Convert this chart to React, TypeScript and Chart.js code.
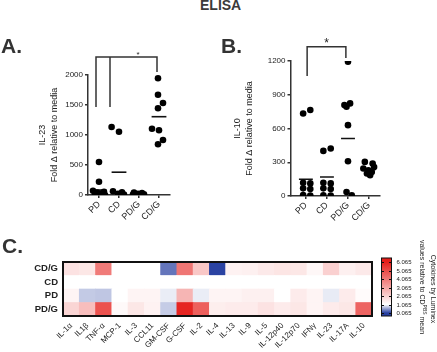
import React, { useEffect, useRef } from 'react';
import { Chart, registerables } from 'chart.js';

Chart.register(...registerables);

const FONT = "'Liberation Sans', Arial, Helvetica, sans-serif";
const INK = '#222222';
const AXIS = '#333333';

Chart.defaults.font.family = FONT;

const groups = ['PD', 'CD', 'PD/G', 'CD/G'];

// Panel A – IL-23, fold change relative to media
const il23PD = [550, 222, 72, 55, 40, 28, 15, 6, 0];
const il23CD = [1133, 1055, 62, 45, 22, 6];
const il23PDG = [42, 32, 22, 12, 6, 0];
const il23CDG = [1945, 1672, 1533, 1445, 1105, 1078, 917, 845];
const il23JitterPD = [0, 0, -0.3, 0.25, -0.1, 0.15, -0.2, 0.05, 0.3];
const il23JitterCD = [-0.37, 0, -0.3, 0.15, -0.05, 0.25];
const il23JitterPDG = [-0.25, 0.15, -0.05, 0.25, -0.3, 0.05];
const il23JitterCDG = [-0.05, -0.05, 0.2, -0.05, -0.35, 0, 0.2, -0.05];
const il23Means = [83, 380, 15, 1305];
const il23Ticks = [0, 500, 1000, 1500, 2000];
const il23BracketX = [0.85, 1.55, 3.9];
const il23BracketLegs = [1467, 1467, 2050];
const il23BracketTop = 2300;
const il23StarX = 2.95;

// Panel B – IL-10, fold change relative to media
const il10PD = [734, 764, 118, 112, 68, 62, 8, 4];
const il10CD = [401, 422, 118, 112, 68, 62, 6, 3];
const il10PDG = [1194, 823, 808, 793, 630, 309, 36, 6];
const il10CDG = [303, 289, 258, 244, 229, 214, 200, 184];
const il10JitterPD = [-0.13, 0.21, -0.13, 0.21, -0.13, 0.21, -0.13, 0.21];
const il10JitterCD = [-0.17, 0.18, -0.17, 0.18, -0.17, 0.18, -0.17, 0.18];
const il10JitterPDG = [0, 0.1, -0.17, -0.07, 0, 0, -0.07, 0.18];
const il10JitterCDG = [-0.2, 0.17, 0.24, -0.27, -0.03, 0.13, -0.1, 0.05];
const il10Means = [149, 169, 511, 235];
const il10Ticks = [0, 300, 600, 900, 1200];
const il10BracketX = [1.06, 2.9];
const il10BracketLegs = [1067, 1227];
const il10BracketTop = 1327;
const il10StarX = 1.98;

// Panel C – Luminex heatmap (values relative to CD^PBS mean)
const cytokines = ['IL-1α', 'IL1β', 'TNF-α', 'MCP-1', 'IL-3', 'CCL11', 'GM-CSF', 'G-CSF', 'IL-2', 'IL-4', 'IL-13', 'IL-9', 'IL-5', 'IL-12p40', 'IL-12p70', 'IFNγ', 'IL-23', 'IL-17A', 'IL-10'];
const heatRowsBottomUp = ['PD/G', 'PD', 'CD', 'CD/G'];
const heatCDG = [1.7, 1.6, 4.0, 1.065, 1.065, 1.065, 0.35, 4.1, 2.3, 0.09, 1.35, 1.4, 1.55, 1.65, 1.6, 1.25, 2.1, 1.4, 1.55];
const heatCD = [1.065, 1.065, 1.065, 1.065, 1.065, 1.065, 1.065, 1.065, 1.065, 1.065, 1.065, 1.065, 1.065, 1.065, 1.065, 1.065, 1.065, 1.065, 1.065];
const heatPD = [1.3, 0.79, 0.77, 1.065, 1.3, 1.3, 0.97, 2.7, 0.97, 1.3, 1.3, 1.4, 1.4, 1.065, 1.5, 1.3, 0.96, 1.5, 1.15];
const heatPDG = [2.0, 2.5, 4.9, 1.2, 1.6, 1.35, 0.8, 5.9, 4.6, 1.45, 1.5, 1.5, 1.7, 1.5, 1.6, 1.3, 1.5, 1.6, 4.5];
const colorbarTicks = [6.065, 5.065, 4.065, 3.065, 2.065, 1.065, 0.065];

const SCALE_MIN = 0.065;
const SCALE_MID = 1.065;
const SCALE_MAX = 6.065;
const WHITE = [255, 255, 255];
const RED = [229, 30, 26];
const BLUE = [38, 62, 160];

function lerp(a: number[], b: number[], t: number) {
  return a.map((v, i) => Math.round(v + (b[i] - v) * t));
}
function colorFor(v: number) {
  let c: number[];
  if (v >= SCALE_MID) c = lerp(WHITE, RED, Math.min(1, (v - SCALE_MID) / (SCALE_MAX - SCALE_MID)));
  else c = lerp(WHITE, BLUE, Math.min(1, (SCALE_MID - v) / (SCALE_MID - SCALE_MIN)));
  return `rgb(${c[0]},${c[1]},${c[2]})`;
}

type Panel = {
  values: number[][];
  jitter: number[][];
  means: number[];
  ticks: number[];
  yTitle: string[];
  bracketX: number[];
  bracketLegs: number[];
  bracketTop: number;
  starX: number;
  starSize: number;
  xMin: number;
  xMax: number;
  meanHalf: number;
  pad: { left: number; top: number; right: number; bottom: number };
  yWidth: number;
  xHeight: number;
};

const panelA: Panel = {
  values: [il23PD, il23CD, il23PDG, il23CDG],
  jitter: [il23JitterPD, il23JitterCD, il23JitterPDG, il23JitterCDG],
  means: il23Means,
  ticks: il23Ticks,
  yTitle: ['IL-23', 'Fold Δ relative to media'],
  bracketX: il23BracketX,
  bracketLegs: il23BracketLegs,
  bracketTop: il23BracketTop,
  starX: il23StarX,
  starSize: 8,
  xMin: 0.45,
  xMax: 4.55,
  meanHalf: 0.37,
  pad: { left: 37, top: 55, right: 45, bottom: 5 },
  yWidth: 51,
  xHeight: 30,
};

const panelB: Panel = {
  values: [il10PD, il10CD, il10PDG, il10CDG],
  jitter: [il10JitterPD, il10JitterCD, il10JitterPDG, il10JitterCDG],
  means: il10Means,
  ticks: il10Ticks,
  yTitle: ['IL-10', 'Fold Δ relative to media'],
  bracketX: il10BracketX,
  bracketLegs: il10BracketLegs,
  bracketTop: il10BracketTop,
  starX: il10StarX,
  starSize: 12,
  xMin: 0.27,
  xMax: 4.52,
  meanHalf: 0.33,
  pad: { left: 16.5, top: 41, right: 57, bottom: 4 },
  yWidth: 59,
  xHeight: 30,
};

function makeScatter(canvas: HTMLCanvasElement, p: Panel) {
  const points = p.values.flatMap((vals, gi) => vals.map((v, j) => ({ x: gi + 1 + (p.jitter[gi][j] || 0), y: v })));
  const meanSets = p.means.map((m, gi) => ({
    type: 'line' as const,
    data: [{ x: gi + 1 - p.meanHalf, y: m }, { x: gi + 1 + p.meanHalf, y: m }],
    borderColor: '#111',
    borderWidth: 1.6,
    pointRadius: 0,
    showLine: true,
    fill: false,
  }));
  const n = p.bracketX.length;
  const bracketMain = {
    type: 'line' as const,
    data: [
      { x: p.bracketX[0], y: p.bracketLegs[0] },
      { x: p.bracketX[0], y: p.bracketTop },
      { x: p.bracketX[n - 1], y: p.bracketTop },
      { x: p.bracketX[n - 1], y: p.bracketLegs[n - 1] },
    ],
    borderColor: AXIS,
    borderWidth: 1.5,
    pointRadius: 0,
    showLine: true,
    fill: false,
    clip: false as any,
  };
  const bracketInner = p.bracketX.slice(1, n - 1).map((bx, i) => ({
    type: 'line' as const,
    data: [{ x: bx, y: p.bracketLegs[i + 1] }, { x: bx, y: p.bracketTop }],
    borderColor: AXIS,
    borderWidth: 1.5,
    pointRadius: 0,
    showLine: true,
    fill: false,
    clip: false as any,
  }));
  const starPlugin = {
    id: 'star',
    afterDatasetsDraw(chart: any) {
      const { ctx, scales } = chart;
      ctx.save();
      ctx.fillStyle = INK;
      ctx.font = `${p.starSize}px ${FONT}`;
      ctx.textAlign = 'center';
      ctx.textBaseline = 'alphabetic';
      ctx.fillText('*', scales.x.getPixelForValue(p.starX), scales.y.getPixelForValue(p.bracketTop));
      ctx.restore();
    },
  };
  return new Chart(canvas, {
    type: 'scatter',
    data: {
      datasets: [
        {
          type: 'scatter',
          data: points,
          pointRadius: 3.3,
          pointBackgroundColor: '#000',
          pointBorderColor: '#000',
          pointBorderWidth: 0,
        } as any,
        ...meanSets,
        bracketMain,
        ...bracketInner,
      ],
    },
    options: {
      responsive: false,
      animation: false,
      events: [],
      layout: { padding: p.pad },
      plugins: { legend: { display: false }, tooltip: { enabled: false }, title: { display: false } },
      scales: {
        x: {
          type: 'linear',
          min: p.xMin,
          max: p.xMax,
          afterBuildTicks: (s: any) => {
            s.ticks = groups.map((_, i) => ({ value: i + 1 }));
          },
          afterFit: (s: any) => {
            s.height = p.xHeight;
          },
          ticks: {
            autoSkip: false,
            minRotation: 45,
            maxRotation: 45,
            padding: 1,
            color: INK,
            font: { size: 9 },
            callback: (v: any) => groups[Math.round(Number(v)) - 1] ?? '',
          },
          grid: { drawOnChartArea: false, drawTicks: true, tickLength: 3, color: AXIS, lineWidth: 1.5 },
          border: { color: AXIS, width: 1.5 },
        },
        y: {
          type: 'linear',
          min: 0,
          max: p.ticks[p.ticks.length - 1],
          afterBuildTicks: (s: any) => {
            s.ticks = p.ticks.map((v) => ({ value: v }));
          },
          afterFit: (s: any) => {
            s.width = p.yWidth;
          },
          ticks: { padding: 2, color: INK, font: { size: 8 }, callback: (v: any) => String(v) },
          grid: { drawOnChartArea: false, drawTicks: true, tickLength: 3, color: AXIS, lineWidth: 1.5 },
          border: { color: AXIS, width: 1.5 },
          title: {
            display: true,
            text: p.yTitle,
            padding: 0,
            color: INK,
            font: { size: 9, lineHeight: 1.333 },
          },
        },
      },
    } as any,
    plugins: [starPlugin],
  });
}

function makeHeat(canvas: HTMLCanvasElement) {
  const rows = [heatPDG, heatPD, heatCD, heatCDG];
  const heatPlugin = {
    id: 'heatDecor',
    afterDatasetsDraw(chart: any) {
      const { ctx, chartArea } = chart;
      ctx.save();
      ctx.strokeStyle = '#111';
      ctx.lineWidth = 2;
      ctx.strokeRect(chartArea.left, chartArea.top, chartArea.right - chartArea.left, chartArea.bottom - chartArea.top);
      ctx.restore();
    },
    afterDraw(chart: any) {
      const { ctx, chartArea } = chart;
      const x0 = chartArea.right + 9.5;
      const w = 10;
      const top = chartArea.top - 4;
      const bottom = chartArea.bottom;
      const yTop = chartArea.top;
      const ySpan = 51;
      const yFor = (v: number) => yTop + ((SCALE_MAX - v) / (SCALE_MAX - SCALE_MIN)) * ySpan;
      ctx.save();
      const grad = ctx.createLinearGradient(0, yFor(SCALE_MAX), 0, yFor(SCALE_MIN));
      for (let k = 0; k <= 24; k++) {
        const v = SCALE_MAX - (k / 24) * (SCALE_MAX - SCALE_MIN);
        grad.addColorStop(k / 24, colorFor(v));
      }
      ctx.fillStyle = grad;
      ctx.fillRect(x0, top, w, bottom - top);
      ctx.strokeStyle = '#111';
      ctx.lineWidth = 1;
      ctx.strokeRect(x0, top, w, bottom - top);
      ctx.fillStyle = INK;
      ctx.font = `6px ${FONT}`;
      ctx.textAlign = 'left';
      ctx.textBaseline = 'middle';
      colorbarTicks.forEach((v) => {
        const y = Math.round(yFor(v)) + 0.5;
        ctx.beginPath();
        ctx.moveTo(x0, y);
        ctx.lineTo(x0 + 2.5, y);
        ctx.moveTo(x0 + w - 2.5, y);
        ctx.lineTo(x0 + w, y);
        ctx.stroke();
        ctx.fillText(v.toFixed(3), x0 + w + 5, y);
      });
      const cy = (top + bottom) / 2 + 2;
      ctx.font = `7px ${FONT}`;
      ctx.save();
      ctx.translate(433, cy);
      ctx.rotate(Math.PI / 2);
      ctx.textAlign = 'center';
      ctx.fillText('Cytokines by Luminex', 0, 0);
      ctx.restore();
      ctx.save();
      ctx.translate(422, cy - 2);
      ctx.rotate(Math.PI / 2);
      const a = 'values relative to CD';
      const s = 'PBS';
      const b = ' mean';
      ctx.font = `7px ${FONT}`;
      const wa = ctx.measureText(a).width;
      const wb = ctx.measureText(b).width;
      ctx.font = `5px ${FONT}`;
      const ws = ctx.measureText(s).width;
      let x = -(wa + ws + wb) / 2;
      ctx.textAlign = 'left';
      ctx.font = `7px ${FONT}`;
      ctx.fillText(a, x, 0);
      x += wa;
      ctx.font = `5px ${FONT}`;
      ctx.fillText(s, x, -2.5);
      x += ws;
      ctx.font = `7px ${FONT}`;
      ctx.fillText(b, x, 0);
      ctx.restore();
      ctx.restore();
    },
  };
  return new Chart(canvas, {
    type: 'bar',
    data: {
      labels: cytokines,
      datasets: heatRowsBottomUp.map((name, r) => ({
        label: name,
        data: cytokines.map(() => [r, r + 1]),
        backgroundColor: rows[r].map(colorFor),
        borderWidth: 0,
        grouped: false,
        barPercentage: 1,
        categoryPercentage: 1,
      })) as any,
    },
    options: {
      responsive: false,
      animation: false,
      events: [],
      layout: { padding: { left: 18, top: 32, right: 65, bottom: 0 } },
      plugins: { legend: { display: false }, tooltip: { enabled: false } },
      scales: {
        x: {
          type: 'category',
          offset: true,
          afterFit: (s: any) => {
            s.height = 36;
          },
          grid: { display: false, drawTicks: false },
          border: { display: false },
          ticks: { autoSkip: false, minRotation: 45, maxRotation: 45, padding: 5, color: INK, font: { size: 8 } },
        },
        y: {
          type: 'linear',
          min: 0,
          max: 4,
          afterBuildTicks: (s: any) => {
            s.ticks = heatRowsBottomUp.map((_, i) => ({ value: i + 0.5 }));
          },
          afterFit: (s: any) => {
            s.width = 45;
          },
          grid: { display: false, drawTicks: false },
          border: { display: false },
          ticks: {
            padding: 5,
            color: INK,
            font: { size: 9.5, weight: 'bold' },
            callback: (v: any) => heatRowsBottomUp[Math.floor(Number(v))] ?? '',
          },
        },
      },
    } as any,
    plugins: [heatPlugin],
  });
}

export default function App() {
  const aRef = useRef<HTMLCanvasElement>(null);
  const bRef = useRef<HTMLCanvasElement>(null);
  const cRef = useRef<HTMLCanvasElement>(null);
  useEffect(() => {
    const charts = [makeScatter(aRef.current!, panelA), makeScatter(bRef.current!, panelB), makeHeat(cRef.current!)];
    return () => charts.forEach((c) => c.destroy());
  }, []);
  const letter: React.CSSProperties = {
    position: 'absolute',
    fontFamily: FONT,
    fontWeight: 'bold',
    fontSize: 21,
    lineHeight: 1,
    color: '#333',
    margin: 0,
  };
  return (
    <div style={{ position: 'fixed', left: 0, top: 0, width: 437, height: 352, background: '#fff', overflow: 'hidden', fontFamily: FONT }}>
      <canvas ref={aRef} width={215} height={210} style={{ position: 'absolute', left: 0, top: 20, width: 215, height: 210 }} />
      <canvas ref={bRef} width={222} height={210} style={{ position: 'absolute', left: 215, top: 20, width: 222, height: 210 }} />
      <canvas ref={cRef} width={437} height={122} style={{ position: 'absolute', left: 0, top: 230, width: 437, height: 122 }} />
      <div style={{ position: 'absolute', left: 200, top: -3, fontSize: 14, fontWeight: 'bold', color: '#3a3a3a', lineHeight: 1.15 }}>ELISA</div>
      <div style={{ ...letter, left: 1, top: 35 }}>A.</div>
      <div style={{ ...letter, left: 221, top: 35 }}>B.</div>
      <div style={{ ...letter, left: 2, top: 235 }}>C.</div>
    </div>
  );
}
